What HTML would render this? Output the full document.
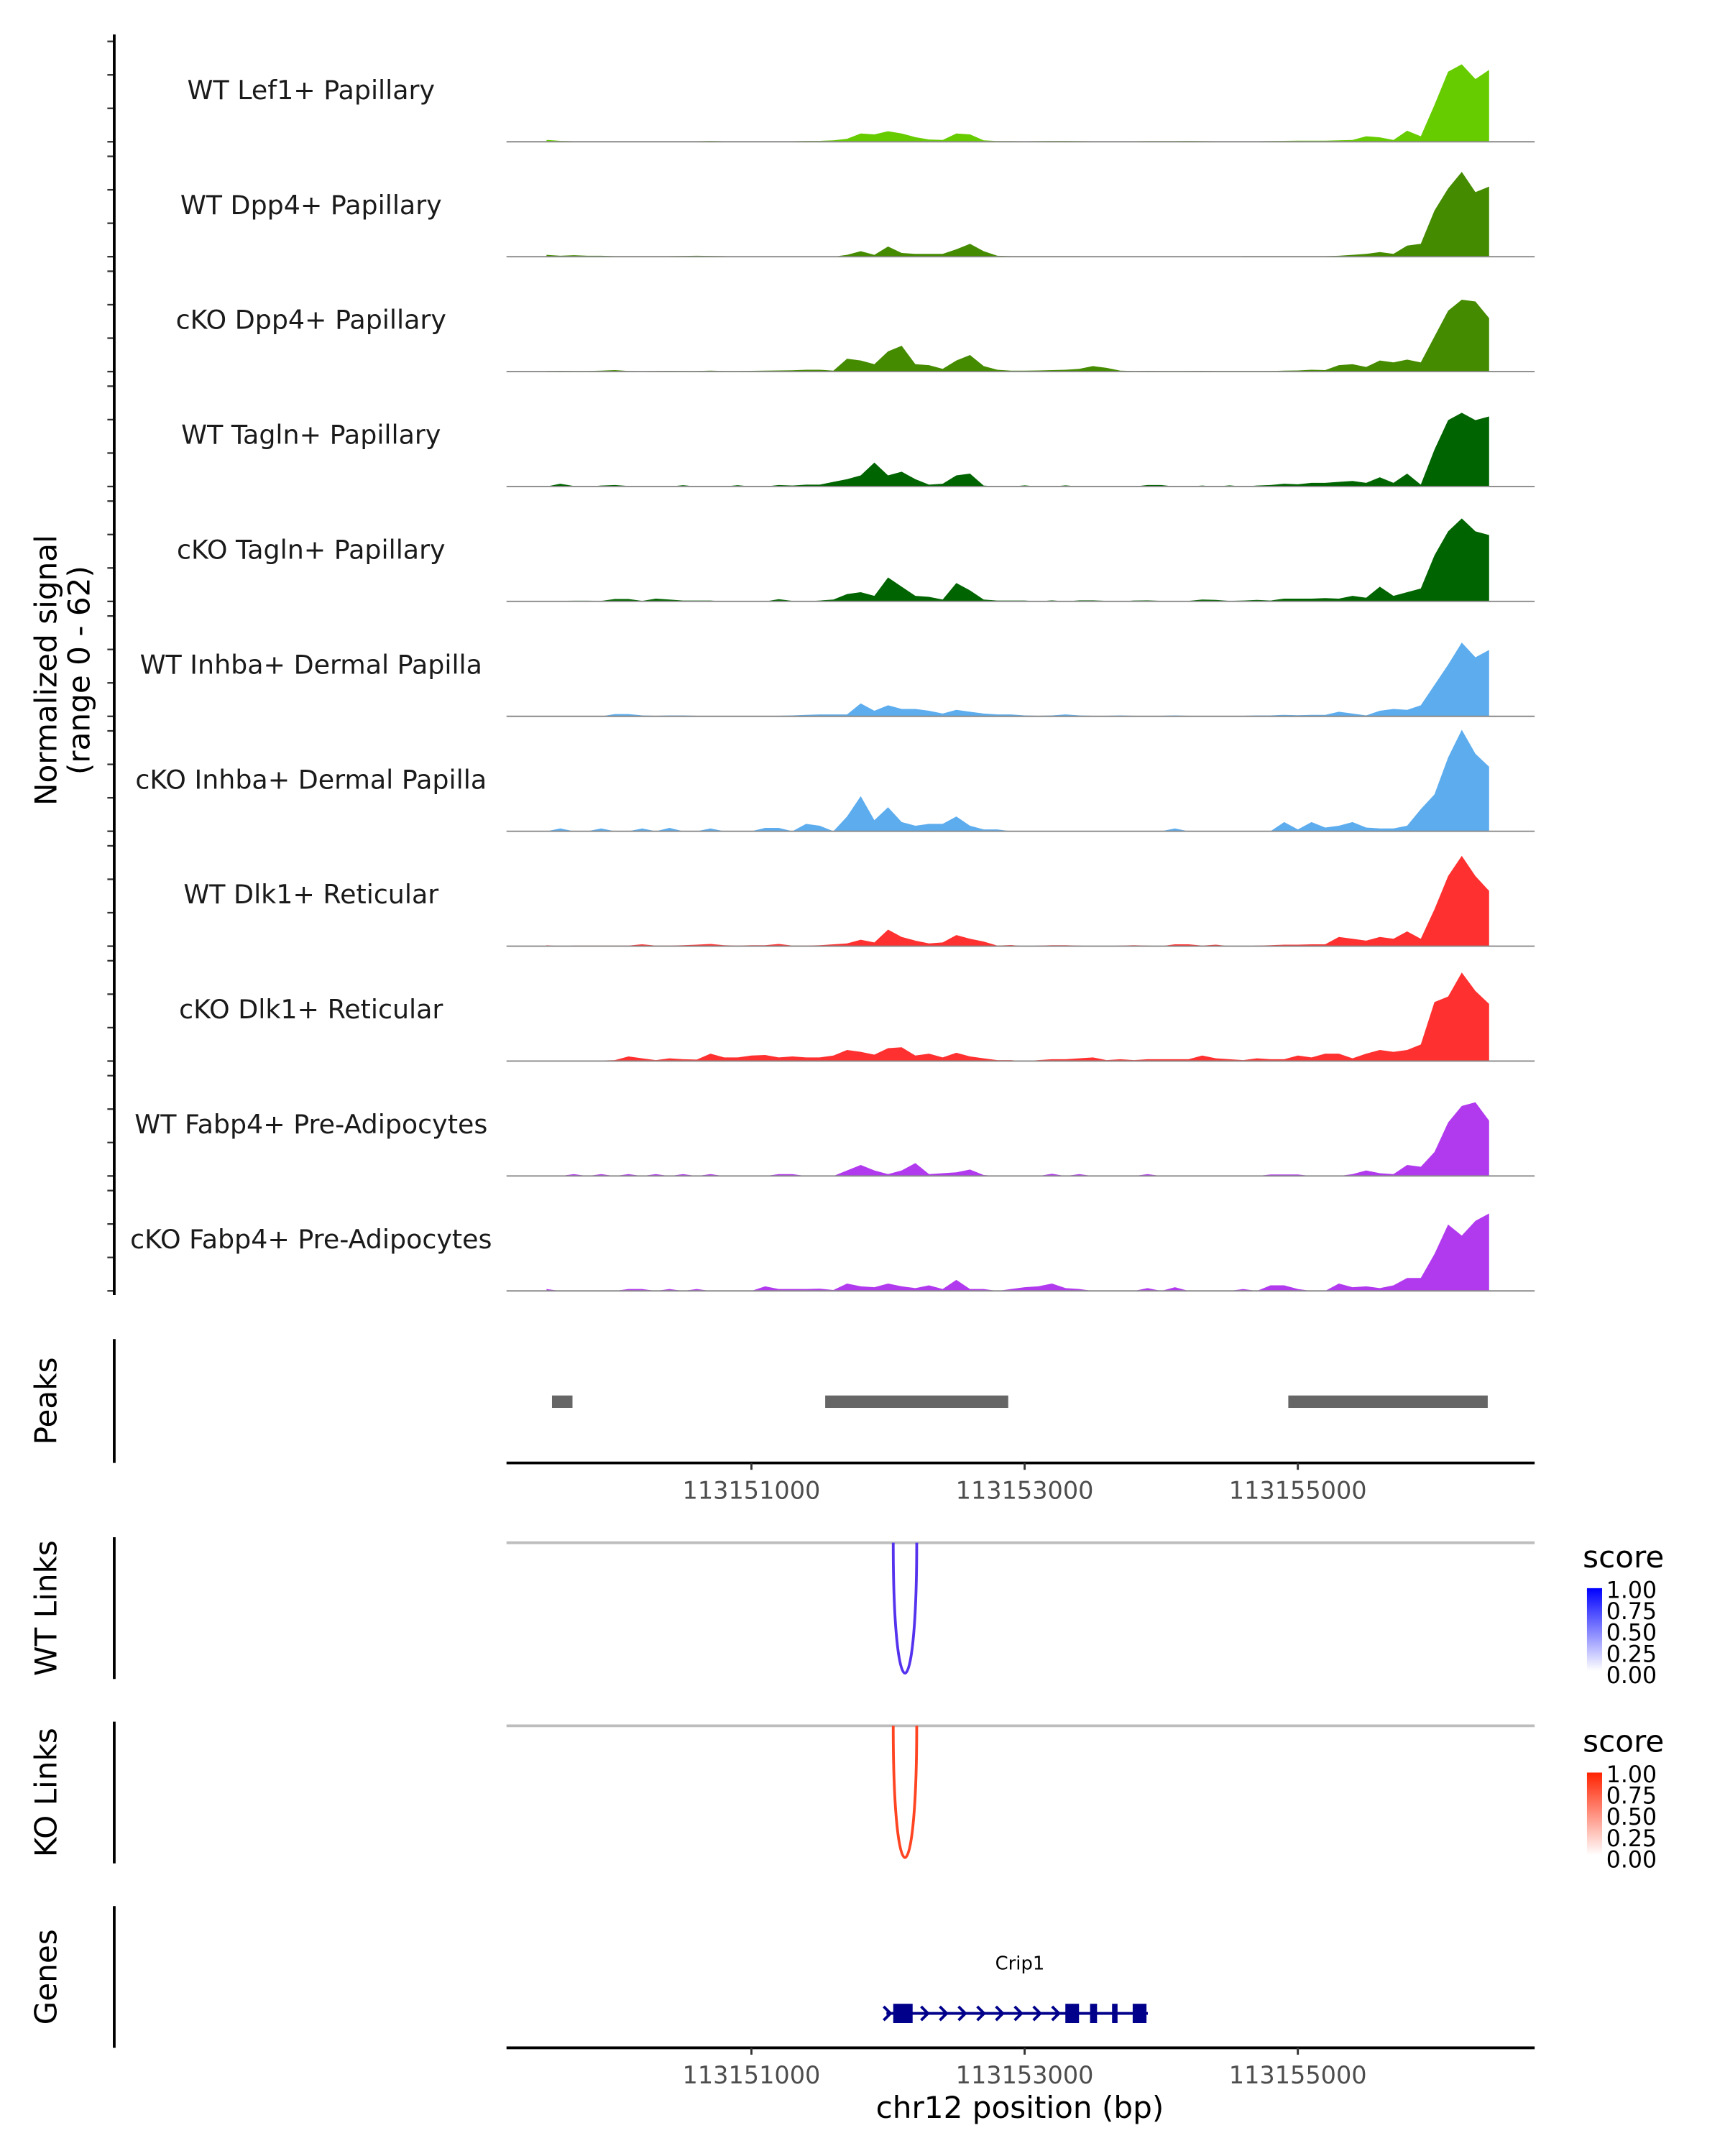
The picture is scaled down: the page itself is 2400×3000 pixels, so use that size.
<!DOCTYPE html>
<html><head><meta charset="utf-8"><style>
html,body{margin:0;padding:0;background:#fff}
svg{display:block}
text{font-family:"DejaVu Sans","Liberation Sans",sans-serif}
</style></head><body>
<svg id="chart" width="2400" height="3000" viewBox="0 0 1253.3 1566.6" xmlns="http://www.w3.org/2000/svg">
<g id="tracks"></g>
<g id="axes"></g>
</svg>
<script>
const trackNames = ["WT Lef1+ Papillary","WT Dpp4+ Papillary","cKO Dpp4+ Papillary","WT Tagln+ Papillary","cKO Tagln+ Papillary","WT Inhba+ Dermal Papilla","cKO Inhba+ Dermal Papilla","WT Dlk1+ Reticular","cKO Dlk1+ Reticular","WT Fabp4+ Pre-Adipocytes","cKO Fabp4+ Pre-Adipocytes"];
const trackColors = ["#66CC00","#458B00","#458B00","#006400","#006400","#5CACEE","#5CACEE","#FF3030","#FF3030","#B23AEE","#B23AEE"];
const binStart = 113149500, binStep = 100;
const s1 = [1,0.5,0.3,0.3,0.3,0.3,0.3,0.3,0.3,0.3,0.3,0.3,0.5,0.3,0.3,0.3,0.3,0.3,0.3,0.5, 0.5,0.8,1.6,4.5,4,5.7,4.5,2.5,1.2,1,4.5,4,0.8,0.4, 0.4,0.3,0.4,0.5,0.5,0.4,0.3,0.3,0.3,0.3,0.4,0.4,0.4,0.5,0.4,0.3,0.3,0.3,0.3,0.4,0.5,0.6, 0.6,0.6,0.8,1,3,2.4,1,6,3,20,38,42,34,39];
const s2 = [1,0.5,0.8,0.5,0.5,0.3,0.3,0.3,0.3,0.3,0.4,0.5,0.4,0.3,0,0,0,0,0,0, 0,0,1,3,1,5.5,2,1.5,1.5,1.5,4,7,3,0.5, 0.3,0.3,0.3,0.3,0.3,0.3,0,0,0,0,0,0,0,0,0,0,0,0.3,0.3,0.3,0.3,0.3, 0.3,0.3,0.5,1,1.5,2.5,1.5,6,7,25,37,46,35,38];
const s3 = [0.3,0.4,0.3,0.3,0.5,0.8,0.3,0.2,0.3,0.4,0.3,0.3,0.5,0.3,0.3,0.4,0.5,0.6,0.7,1, 1,0.5,7,6,4,11,14,4,3.5,1.5,6,9,3,1, 0.5,0.5,0.6,0.8,1,1.5,3,2,0.5,0.3,0.4,0.3,0.3,0.3,0.4,0.3,0.3,0.3,0.3,0.3,0.5,0.6, 1,0.8,3.5,4,2.5,6,5,6.5,5,19,33,39,38,29];
const s4 = [0,1.5,0.3,0,0.5,0.8,0.3,0,0,0,0.7,0,0,0,0.7,0,0,0.8,0.5,1, 1,2.5,4,6,13,6,8,4,1,1.5,6,7,0.5,0, 0,0.6,0,0,0.6,0,0,0,0,0,0.8,0.8,0,0,0.5,0,0.6,0,0.5,0.8,1.5,1.2, 2,2,2.5,3,2,5,2,7,1,20,36,40,36,38];
const s5 = [0,0.3,0.4,0.4,0.3,1.3,1.3,0.3,1.5,1,0.5,0.5,0.5,0,0,0,0,1.2,0.3,0, 0.5,1,4,5,3,13,8,3,2.5,1,10,6,1,0.5, 0.5,0.5,0,0.6,0,0.6,0.6,0.3,0,0.5,0.6,0.3,0.3,0.3,1,0.8,0.3,0.5,0.8,0.5,1.5,1.5, 1.5,1.8,1.5,3,2,8,3,5,7,25,38,45,38,36];
const s6 = [0.3,0,0,0,0,1.2,1.2,0.5,0.3,0.5,0.5,0.3,0.3,0.3,0,0,0,0.3,0.5,0.8, 1,1,1,7,3,6,4,4,3,1.5,3.5,2.5,1.5,1, 1,0.5,0.3,0.5,1,0.5,0.3,0.3,0.5,0.3,0.3,0.3,0.5,0.3,0.3,0.3,0.3,0.3,0.5,0.5,0.8,0.6, 0.8,0.8,2.5,1.5,0.5,3,4,3.5,6,17,28,40,32,36];
const s7 = [0,1.5,0,0,1.5,0,0,1.5,0,1.8,0,0,1.5,0,0,0,1.8,1.8,0,4, 3,0,8,19,6,13,5,3,4,4,8,3,1,1, 0,0,0,0,0,0,0,0,0,0,0,0,1.5,0,0,0,0,0,0,0,5,1, 5,2,3,5,2,1.5,1.5,3,12,20,40,55,42,35];
const s8 = [0.5,0,0.3,0.3,0.3,0.3,0.3,1,0.3,0.3,0.5,0.8,1.2,0.5,0.3,0.5,0.5,1.2,0.3,0.3, 0.5,1,1.5,3.5,2,9,5,3,1.5,2,6,4,2.5,0.3, 0.6,0,0.3,0.5,0.5,0.3,0,0,0.3,0.5,0.3,0,1,1,0.3,0.8,0,0,0.3,0.5,0.8,0.8, 1,1,5,4,3,5,4,8,4,20,38,49,38,30];
const s9 = [0,0.3,0.3,0.3,0.3,0.5,2.5,1.5,0.5,1.5,1,0.8,4,2,2,3,3.3,2,2.5,2, 2,3,6,5,3.5,7,7.5,3,4,2,4.5,2.5,1.5,0.5, 0.5,0,0.5,1,1,1.5,2,0.5,1,0.5,1,1,1,1,3,1.5,1,0.5,1.5,1,1,3, 2,4,4,1.5,4,6,5,6,9,32,35,48,38,31];
const s10 = [0,0,1,0,1,0,1,0,1,0,1,0,1,0,0,0,0,1,1,0, 0,0,3,6,3,1,3,7,1,1.5,2,3.5,0.5,0, 0,0,0,1.2,0,1,0,0,0,0,1,0,0,0,0,0,0,0,0,0.8,0.8,0.8, 0,0,0,1,3,1.5,1,6,5,13,29,38,40,30];
const s11 = [1,0,0,0,0,0,1,1,0,1,0,1,0,0,0,0,2.5,1,1,1, 1.2,0.5,4,2.5,2,4,2.5,1.5,3,1,6,1,1,0, 1,2,2.5,4,1.5,1,0,0,0,0,1.5,0,2,0,0,0,0,1,0,3,3,1, 0,0,4,2,2.5,1.5,3,7,7,20,36,30,38,42];
const series = [s1,s2,s3,s4,s5,s6,s7,s8,s9,s10,s11];
const peakStarts = [113149540, 113151540, 113154930];
const peakEnds   = [113149690, 113152880, 113156390];
const xTicks = [113151000, 113153000, 113155000];
const geneStart = 113151988, geneEnd = 113153902;
const exonStarts = [113152038, 113153298, 113153479, 113153640, 113153791];
const exonEnds   = [113152180, 113153398, 113153530, 113153680, 113153892];
const linkStart = 113152038, linkEnd = 113152210;
const legendLabels = ["1.00","0.75","0.50","0.25","0.00"];

const NS = "http://www.w3.org/2000/svg";
const X0 = 368, X1 = 1115, BP0 = 113149207, PXBP = 0.09925;
function xs(bp){ return X0 + (bp - BP0) * PXBP; }
const YU = 1.34, BASE0 = 103, TSTEP = 83.5;
function mk(tag, attrs, parent){ const e = document.createElementNS(NS, tag); for (const k in attrs) e.setAttribute(k, attrs[k]); parent.appendChild(e); return e; }
const svg = document.getElementById('chart');
const tg = document.getElementById('tracks');
const ag = document.getElementById('axes');

series.forEach((vals, t) => {
  const base = BASE0 + TSTEP * t;
  const g = mk('g', {}, tg);
  
  
  let d = 'M' + xs(binStart).toFixed(2) + ' ' + base;
  vals.forEach((v, i) => { d += ' L' + xs(binStart + binStep*i).toFixed(2) + ' ' + (base - v*YU).toFixed(2); });
  d += ' L' + xs(binStart + binStep*(vals.length-1)).toFixed(2) + ' ' + base + ' Z';
  const p = mk('path', {d: d, fill: trackColors[t]}, g);
  
  
  const bl = mk('line', {x1: X0, x2: X1, y1: base, y2: base, stroke: '#8a8a8a', 'stroke-width': 1}, g);
  
  
  const lb = mk('text', {x: 226, y: base - 31, 'text-anchor': 'middle', 'font-size': 19, fill: '#1a1a1a'}, g);
  lb.textContent = trackNames[t];
  
  
  [0, 24.3, 48.6, 72.9].forEach(o => {
    const tk = mk('line', {x1: 78, x2: 83, y1: base - o, y2: base - o, stroke: '#333', 'stroke-width': 1.2}, ag);
    
    
  });
});
let ya = mk('line', {x1: 83, x2: 83, y1: 25, y2: 941, stroke: '#000', 'stroke-width': 2}, ag);
 
let yt = mk('text', {transform: 'translate(41,487) rotate(-90)', 'text-anchor': 'middle', 'font-size': 22, fill: '#000'}, ag);
yt.textContent = 'Normalized signal';
 
let yt2 = mk('text', {transform: 'translate(65,487) rotate(-90)', 'text-anchor': 'middle', 'font-size': 22, fill: '#000'}, ag);
yt2.textContent = '(range 0 - 62)';
 

function panelAxis(y1, y2, label, name){
  const l = mk('line', {x1: 83, x2: 83, y1: y1, y2: y2, stroke: '#000', 'stroke-width': 2}, ag);
   
  const t = mk('text', {transform: 'translate(41,' + ((y1+y2)/2) + ') rotate(-90)', 'text-anchor': 'middle', 'font-size': 22, fill: '#000'}, ag);
  t.textContent = label;
   
}
panelAxis(973, 1063, 'Peaks', 'peaks');
panelAxis(1117, 1220, 'WT Links', 'wt-links');
panelAxis(1251, 1354, 'KO Links', 'ko-links');
panelAxis(1385, 1488, 'Genes', 'genes');

peakStarts.forEach((s, i) => {
  const r = mk('rect', {x: xs(s), y: 1014, width: xs(peakEnds[i]) - xs(s), height: 9, fill: '#666'}, ag);
   
});
function xAxis(y, name){
  const l = mk('line', {x1: X0, x2: X1, y1: y, y2: y, stroke: '#000', 'stroke-width': 2}, ag);
   
  xTicks.forEach(v => {
    const tk = mk('line', {x1: xs(v), x2: xs(v), y1: y, y2: y + 5, stroke: '#333', 'stroke-width': 1.5}, ag);
     
    const tl = mk('text', {x: xs(v), y: y + 26, 'text-anchor': 'middle', 'font-size': 17.5, fill: '#4d4d4d'}, ag);
    tl.textContent = String(v);
     
  });
}
xAxis(1063, 'peaks-x-axis');
xAxis(1488, 'x-axis');
let xt = mk('text', {x: 741, y: 1539, 'text-anchor': 'middle', 'font-size': 22, fill: '#000'}, ag);
xt.textContent = 'chr12 position (bp)';
 

function links(top, bottom, color, name){
  const l = mk('line', {x1: X0, x2: X1, y1: top, y2: top, stroke: '#bdbdbd', 'stroke-width': 2}, ag);
   
  const a = xs(linkStart), b = xs(linkEnd), dep = (bottom - top);
  const d = 'M' + a + ' ' + top + ' C' + a + ' ' + (top + dep*1.33) + ' ' + b + ' ' + (top + dep*1.33) + ' ' + b + ' ' + top;
  const p = mk('path', {d: d, fill: 'none', stroke: color, 'stroke-width': 2}, ag);
   
}
links(1121, 1216, '#5533EE', 'wt-links');
links(1254, 1350, '#FF4422', 'ko-links');

const defs = mk('defs', {}, svg);
function legend(top, color, id, name){
  const lg = mk('linearGradient', {id: id, x1: 0, y1: 1, x2: 0, y2: 0}, defs);
  mk('stop', {offset: 0, 'stop-color': '#fff'}, lg);
  mk('stop', {offset: 1, 'stop-color': color}, lg);
  const g = mk('g', {}, ag);
   
  const t = mk('text', {x: 1150, y: top, 'font-size': 22, fill: '#000'}, g);
  t.textContent = 'score';
  const r = mk('rect', {x: 1153, y: top + 15, width: 11, height: 60, fill: 'url(#' + id + ')'}, g);
   
  legendLabels.forEach((s, i) => {
    const tl = mk('text', {x: 1167, y: top + 22 + i*15.5, 'font-size': 16.5, fill: '#000'}, g);
    tl.textContent = s;
     
  });
}
legend(1139, '#0000FF', 'gwt', 'wt-legend');
legend(1273, '#FF2200', 'gko', 'ko-legend');

const gy = 1463;
let gl = mk('line', {x1: xs(geneStart), x2: xs(geneEnd), y1: gy, y2: gy, stroke: '#00008B', 'stroke-width': 2}, ag);
 
for (let x = xs(geneStart) + 1; x < xs(exonStarts[1]); x += 13.6) {
  const c = mk('path', {d: 'M' + (x-3) + ' ' + (gy-5) + ' L' + (x+2) + ' ' + gy + ' L' + (x-3) + ' ' + (gy+5), fill: 'none', stroke: '#00008B', 'stroke-width': 2}, ag);
   
}
exonStarts.forEach((s, i) => {
  const r = mk('rect', {x: xs(s), y: gy - 7, width: xs(exonEnds[i]) - xs(s), height: 14, fill: '#00008B'}, ag);
   
});
let gn = mk('text', {x: 741, y: 1431, 'text-anchor': 'middle', 'font-size': 13.5, fill: '#000'}, ag);
gn.textContent = 'Crip1';
 
</script>
</body></html>
